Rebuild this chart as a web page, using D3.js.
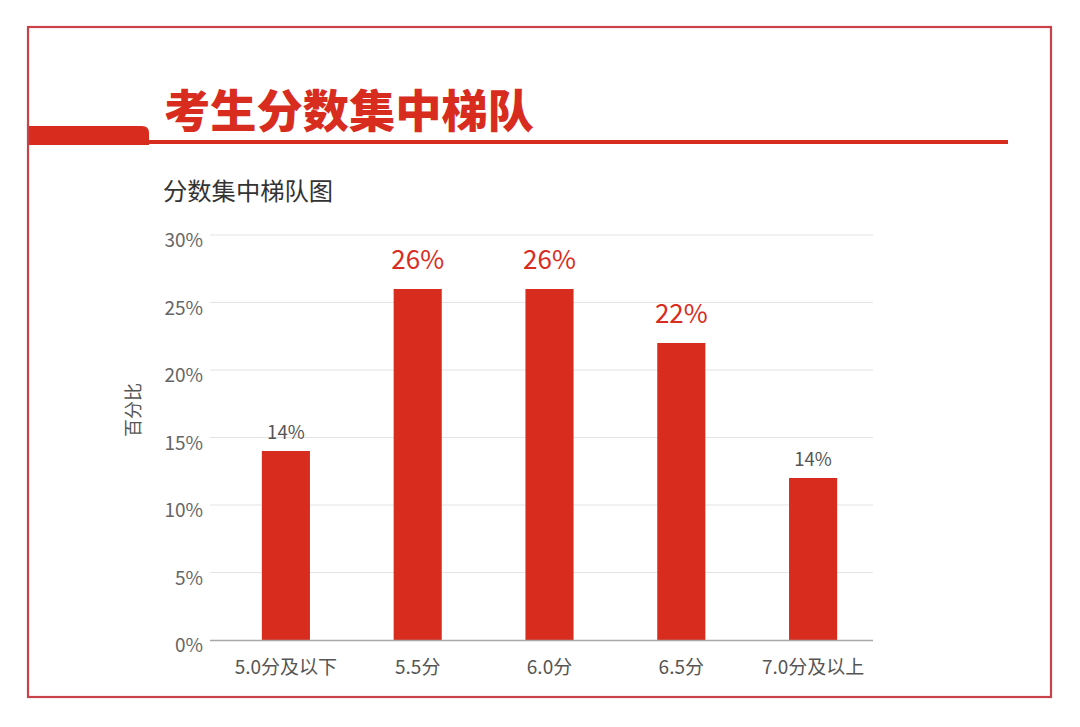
<!DOCTYPE html>
<html><head><meta charset="utf-8">
<script src="https://cdn.jsdelivr.net/npm/d3@7"></script>
<style>html,body{margin:0;padding:0;background:#fff;}svg{display:block;}</style>
</head><body>
<script>
const categories = ["5.0分及以下","5.5分","6.0分","6.5分","7.0分及以上"];
const values = [14, 26, 26, 22, 12];
const valueLabels = ["14%","26%","26%","22%","14%"];
const yTicks = [0,5,10,15,20,25,30];
const title = "考生分数集中梯队";
const subtitle = "分数集中梯队图";
const yTitle = "百分比";

const W = 1080, H = 727;
const font = "'Noto Sans CJK SC','Noto Sans',sans-serif";
const red = "#d82c1f";
const svg = d3.select("body").append("svg").attr("width", W).attr("height", H);

// frame
svg.append("rect").attr("x",28).attr("y",27).attr("width",1023).attr("height",670)
  .attr("fill","none").attr("stroke","#c8424a").attr("stroke-width",2.2);

// header tab + line
svg.append("path").attr("d","M29,126 L142,126 Q149,126 149,133 L149,145 L29,145 Z").attr("fill",red);
svg.append("rect").attr("x",148).attr("y",140).attr("width",860).attr("height",4).attr("fill",red);
svg.append("text").attr("x",164).attr("y",128).text(title)
  .attr("font-family",font).attr("font-weight",900).attr("font-size",45).attr("fill",red)
  .attr("textLength",370).attr("lengthAdjust","spacingAndGlyphs");

svg.append("text").attr("x",163).attr("y",200).text(subtitle)
  .attr("font-family",font).attr("font-size",24.3).attr("fill","#333");

const y = d3.scaleLinear().domain([0,30]).range([640,235]);
const x = d3.scaleBand().domain(categories).range([220,879]).paddingInner(0.635).paddingOuter(0.3175);

// grid
svg.append("g").selectAll("line").data(yTicks.filter(t=>t>0)).join("line")
  .attr("x1",210).attr("x2",873).attr("y1",d=>y(d)).attr("y2",d=>y(d))
  .attr("stroke","#e4e4e4").attr("stroke-width",1.2);

// y axis labels
const yAxis = d3.axisLeft(y).tickValues(yTicks).tickFormat(d=>d+"%").tickSize(0).tickPadding(0);
const yg = svg.append("g").attr("transform","translate(203,5)").call(yAxis);
yg.select(".domain").remove();
yg.selectAll("text").attr("font-family",font).attr("font-size",19).attr("fill","#666").attr("dy","0.35em");

svg.append("text").attr("transform","translate(140,410) rotate(-90)").attr("text-anchor","middle")
  .text(yTitle).attr("font-family",font).attr("font-size",18).attr("fill","#555");

// bars
const data = categories.map((c,i)=>({c, v: values[i], l: valueLabels[i]}));
svg.append("g").selectAll("rect").data(data).join("rect")
  .attr("x",d=>x(d.c)).attr("width",x.bandwidth())
  .attr("y",d=>y(d.v)).attr("height",d=>y(0)-y(d.v)).attr("fill",red);

// baseline
const xAxis = d3.axisBottom(x).tickSize(0).tickPadding(0);
const xg = svg.append("g").attr("transform","translate(0,640)").call(xAxis);
xg.select(".domain").remove();
svg.append("line").attr("x1",210).attr("x2",873).attr("y1",640.5).attr("y2",640.5).attr("stroke","#a8a8a8").attr("stroke-width",1.3);
xg.selectAll("text").attr("font-family",font).attr("font-size",19).attr("fill","#555").attr("y",27).attr("dy","0.35em");

// value labels
svg.append("g").selectAll("text").data(data).join("text")
  .attr("x",d=>x(d.c)+x.bandwidth()/2)
  .attr("y",d=>y(d.v) - (d.v>=20 ? 20 : 12))
  .attr("text-anchor","middle")
  .attr("font-family",font)
  .attr("font-size",d=>d.v>=20?26:18.5)
  .attr("fill",d=>d.v>=20?red:"#555")
  .text(d=>d.l);
</script>
</body></html>
